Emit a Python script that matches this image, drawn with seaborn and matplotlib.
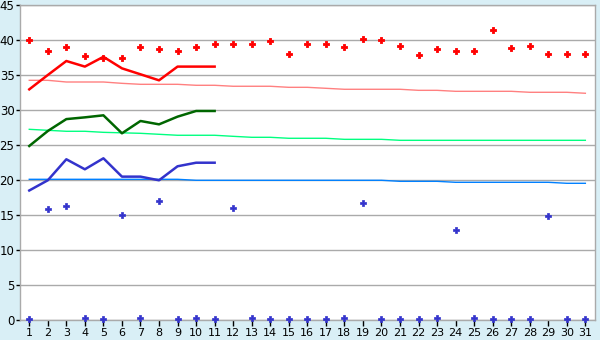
import numpy as np
import pandas as pd
import matplotlib
matplotlib.use("Agg")
import matplotlib.pyplot as plt
import seaborn as sns

days = list(range(1, 32))
days_obs = list(range(1, 12))

record_high = [40.0, 38.4, 39.0, 37.7, 37.5, 37.5, 39.0, 38.7, 38.4, 39.0,
               39.4, 39.4, 39.4, 39.8, 37.95, 39.4, 39.4, 39.0, 40.2, 40.0,
               39.2, 37.8, 38.7, 38.5, 38.4, 41.4, 38.8, 39.1, 37.95, 37.95, 37.95]
max_temp = [32.95, 35.0, 37.0, 36.2, 37.6, 35.95, 35.1, 34.24, 36.2, 36.2, 36.2]
normal_max = [34.24, 34.24, 34.0, 34.0, 34.0, 33.81, 33.67, 33.67, 33.67, 33.53,
              33.53, 33.39, 33.39, 33.39, 33.24, 33.24, 33.1, 32.96, 32.96, 32.96,
              32.96, 32.81, 32.81, 32.67, 32.67, 32.67, 32.67, 32.53, 32.53, 32.53, 32.39]
mean_temp = [24.86, 27.0, 28.7, 28.95, 29.24, 26.67, 28.43, 27.95, 29.05, 29.86, 29.86]
normal_mean = [27.24, 27.1, 26.96, 26.96, 26.81, 26.74, 26.67, 26.53, 26.39, 26.39,
               26.39, 26.24, 26.1, 26.1, 25.96, 25.96, 25.96, 25.81, 25.81, 25.81,
               25.67, 25.67, 25.67, 25.67, 25.67, 25.67, 25.67, 25.67, 25.67, 25.67, 25.67]
min_temp = [18.5, 19.96, 22.96, 21.53, 23.1, 20.48, 20.48, 19.96, 21.96, 22.47, 22.47]
normal_min = [20.1, 20.1, 20.1, 20.1, 20.1, 20.1, 20.1, 20.1, 20.1, 19.96,
              19.96, 19.96, 19.96, 19.96, 19.96, 19.96, 19.96, 19.96, 19.96, 19.96,
              19.81, 19.81, 19.81, 19.67, 19.67, 19.67, 19.67, 19.67, 19.67, 19.53, 19.53]
record_low = [0.1, 15.8, 16.24, 0.25, 0.1, 14.95, 0.25, 16.95, 0.1, 0.25,
              0.1, 15.95, 0.25, 0.1, 0.1, 0.1, 0.1, 0.25, 16.67, 0.1,
              0.1, 0.1, 0.25, 12.8, 0.25, 0.1, 0.1, 0.1, 14.8, 0.1, 0.1]
y_ticks = [0, 5, 10, 15, 20, 25, 30, 35, 40, 45]

bg = "#d9eff6"
fig = plt.figure(figsize=(6, 3.4), dpi=100, facecolor=bg)
ax = fig.add_axes([20/600, 1-320/340, 575/600, 315/340])
ax.set_facecolor("white")

full = pd.DataFrame({"day": days, "record_high": record_high, "normal_max": normal_max,
                     "normal_mean": normal_mean, "normal_min": normal_min,
                     "record_low": record_low})
obs = pd.DataFrame({"day": days_obs, "max_temp": max_temp, "mean_temp": mean_temp,
                    "min_temp": min_temp})

for col, c in [("normal_max", "#ff8080"), ("normal_mean", "#00ff80"), ("normal_min", "#0080ff")]:
    sns.lineplot(data=full, x="day", y=col, ax=ax, color=c, linewidth=1.0, zorder=3)
for col, c in [("max_temp", "#ff0000"), ("mean_temp", "#006600"), ("min_temp", "#3333cc")]:
    sns.lineplot(data=obs, x="day", y=col, ax=ax, color=c, linewidth=1.8, zorder=4)
sns.scatterplot(data=full, x="day", y="record_high", ax=ax, color="#ff0000", marker="P",
                s=20, linewidth=0.6, edgecolor="#ff0000", zorder=5, clip_on=False)
sns.scatterplot(data=full, x="day", y="record_low", ax=ax, color="#3333cc", marker="P",
                s=15, linewidth=0.5, edgecolor="#3333cc", zorder=5, clip_on=False)

ax.set_xlim(0.5, 31.52)
ax.set_ylim(0, 45)
ax.set_xticks(days)
ax.set_xticklabels([str(d) for d in days])
ax.set_yticks(y_ticks)
ax.set_yticklabels([str(v) for v in y_ticks])
ax.set_xlabel("")
ax.set_ylabel("")
ax.grid(axis="y", color="#aaaaaa", linewidth=1.0, zorder=0)
ax.set_axisbelow(True)
for s in ax.spines.values():
    s.set_color("#aaaaaa")
    s.set_linewidth(1.0)
ax.tick_params(axis="x", length=4, width=1, color="black", labelsize=8, pad=2)
ax.tick_params(axis="y", length=3, width=1, color="black", labelsize=8.5, pad=1)
if ax.get_legend():
    ax.get_legend().remove()

fig.savefig("out.png", dpi=100, facecolor=bg)
